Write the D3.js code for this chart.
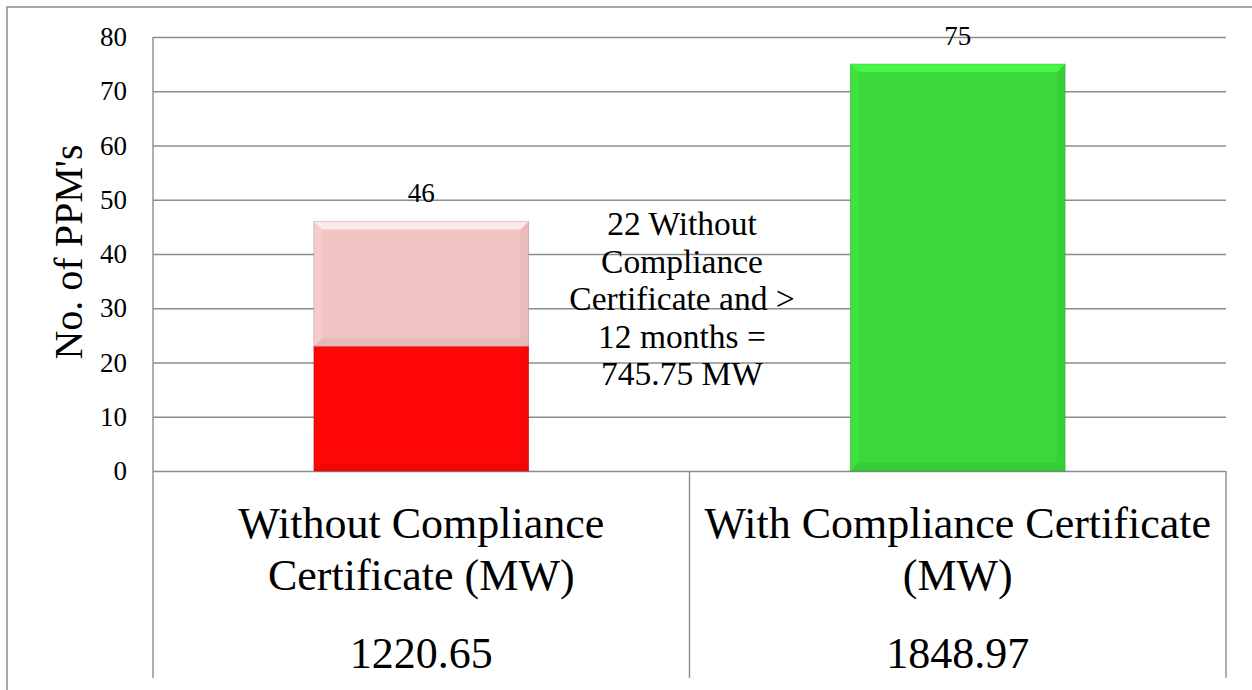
<!DOCTYPE html>
<html>
<head>
<meta charset="utf-8">
<script src="https://cdn.jsdelivr.net/npm/d3@7"></script>
<style>
  body { margin: 0; background: #fff; }
  svg { display: block; font-family: "Liberation Serif", "DejaVu Serif", serif; }
  svg text { font-family: "Liberation Serif", "DejaVu Serif", serif; }
</style>
</head>
<body>
<svg width="1252" height="690"></svg>
<script>
// data
var categories = ["Without Compliance Certificate (MW)", "With Compliance Certificate (MW)"];
var categoryLines = [["Without Compliance", "Certificate (MW)"], ["With Compliance Certificate", "(MW)"]];
var capacityMW = ["1220.65", "1848.97"];
var over12Months = [23, 0];   // red, bottom part
var otherWithout = [23, 0];   // pink, on top
var withCert = [0, 75];       // green
var totals = [46, 75];
var yTicks = [0, 10, 20, 30, 40, 50, 60, 70, 80];
var noteLines = ["22 Without", "Compliance", "Certificate and >", "12 months =", "745.75 MW"];

(function () {
    var svg = d3.select("svg");
    var pLeft = 153, pRight = 1226, pTop = 37, pBottom = 471, tableBottom = 678;

    var x = d3.scaleBand().domain(categories).range([pLeft, pRight]);
    var y = d3.scaleLinear().domain([0, 80]).range([pBottom, pTop]);
    var barW = x.bandwidth() * 0.4;

    // outer frame
    svg.append("path")
        .attr("d", "M7,700 L7,7 L1260,7")
        .attr("fill", "none").attr("stroke", "#8c8c8c").attr("stroke-width", 1.5);

    // gridlines
    svg.append("g")
        .attr("transform", "translate(" + pLeft + ",0)")
        .call(d3.axisLeft(y).tickValues(yTicks).tickSize(-(pRight - pLeft)).tickFormat(""))
        .call(function (g) { g.select(".domain").remove(); })
        .selectAll("line").attr("stroke", "#8c8c8c").attr("stroke-width", 1.4);

    // tick labels
    var yAxis = svg.append("g")
        .attr("transform", "translate(" + pLeft + ",0)")
        .call(d3.axisLeft(y).tickValues(yTicks).tickSize(0).tickPadding(26));
    yAxis.select(".domain").remove();
    yAxis.selectAll("text")
        .style("font-family", "Liberation Serif")
        .style("font-size", "27px")
        .attr("fill", "#000");

    // axis title
    svg.append("text")
        .attr("transform", "translate(82,252) rotate(-90)")
        .attr("text-anchor", "middle")
        .style("font-size", "40px")
        .text("No. of PPM's");

    // bars with a bevel look
    var segments = [];
    categories.forEach(function (c, i) {
        segments.push({ cat: c, y0: 0, y1: over12Months[i], color: "#fe0606" });
        segments.push({ cat: c, y0: over12Months[i], y1: over12Months[i] + otherWithout[i], color: "#f2c3c3" });
        segments.push({ cat: c, y0: 0, y1: withCert[i], color: "#3ad83a" });
    });
    segments = segments.filter(function (d) { return d.y1 > d.y0; });

    var seg = svg.append("g").selectAll("g").data(segments).enter().append("g");
    function geo(d) {
        var x0 = x(d.cat) + (x.bandwidth() - barW) / 2;
        return { x0: x0, x1: x0 + barW, t: y(d.y1), b: y(d.y0) };
    }
    var bev = 8;
    seg.append("rect")
        .attr("x", function (d) { return geo(d).x0; })
        .attr("y", function (d) { return geo(d).t; })
        .attr("width", barW)
        .attr("height", function (d) { var g = geo(d); return g.b - g.t; })
        .attr("fill", function (d) { return d.color; })
        .attr("stroke", function (d) { return d3.color(d.color).darker(1.2); })
        .attr("stroke-opacity", 0.5).attr("stroke-width", 1);
    // top bevel
    seg.append("polygon")
        .attr("points", function (d) {
            var g = geo(d);
            return [[g.x0, g.t], [g.x1, g.t], [g.x1 - bev, g.t + bev], [g.x0 + bev, g.t + bev]].join(" ");
        })
        .attr("fill", function (d) { return d3.color(d.color).brighter(0.6); })
        .attr("opacity", 0.8);
    // left bevel
    seg.append("polygon")
        .attr("points", function (d) {
            var g = geo(d);
            return [[g.x0, g.t], [g.x0 + bev, g.t + bev], [g.x0 + bev, g.b - bev], [g.x0, g.b]].join(" ");
        })
        .attr("fill", function (d) { return d3.color(d.color).brighter(0.25); })
        .attr("opacity", 0.5);
    // right bevel
    seg.append("polygon")
        .attr("points", function (d) {
            var g = geo(d);
            return [[g.x1, g.t], [g.x1 - bev, g.t + bev], [g.x1 - bev, g.b - bev], [g.x1, g.b]].join(" ");
        })
        .attr("fill", function (d) { return d3.color(d.color).darker(0.25); })
        .attr("opacity", 0.5);
    // bottom bevel
    seg.append("polygon")
        .attr("points", function (d) {
            var g = geo(d);
            return [[g.x0, g.b], [g.x0 + bev, g.b - bev], [g.x1 - bev, g.b - bev], [g.x1, g.b]].join(" ");
        })
        .attr("fill", function (d) { return d3.color(d.color).darker(0.3); })
        .attr("opacity", 0.5);

    // total labels
    svg.append("g").selectAll("text").data(categories).enter().append("text")
        .attr("x", function (d) { return x(d) + x.bandwidth() / 2; })
        .attr("y", function (d, i) { return y(totals[i]) - 19; })
        .attr("text-anchor", "middle")
        .style("font-size", "27px")
        .text(function (d, i) { return totals[i]; });

    // note beside the first bar
    svg.append("text")
        .attr("text-anchor", "middle")
        .style("font-size", "33.5px")
        .selectAll("tspan").data(noteLines).enter().append("tspan")
        .attr("x", 682)
        .attr("y", function (d, i) { return 235 + i * 37.5; })
        .text(function (d) { return d; });

    // data table below the plot
    var table = svg.append("g").attr("stroke", "#8c8c8c").attr("stroke-width", 1.4);
    table.append("line").attr("x1", pLeft).attr("x2", pLeft).attr("y1", pTop).attr("y2", tableBottom);
    categories.forEach(function (c) {
        var xr = x(c) + x.bandwidth();
        table.append("line").attr("x1", xr).attr("x2", xr).attr("y1", pBottom).attr("y2", tableBottom);
    });

    var cell = svg.append("g").selectAll("g").data(categories).enter().append("g");
    cell.append("text")
        .attr("text-anchor", "middle")
        .style("font-size", "44px")
        .selectAll("tspan").data(function (d, i) { return categoryLines[i]; }).enter().append("tspan")
        .attr("x", function () { var c = d3.select(this.parentNode).datum(); return x(c) + x.bandwidth() / 2; })
        .attr("y", function (d, i) { return 538 + i * 52; })
        .text(function (d) { return d; });
    cell.append("text")
        .attr("x", function (d) { return x(d) + x.bandwidth() / 2; })
        .attr("y", 668)
        .attr("text-anchor", "middle")
        .style("font-size", "44px")
        .text(function (d, i) { return capacityMW[i]; });
})();
</script>
</body>
</html>
